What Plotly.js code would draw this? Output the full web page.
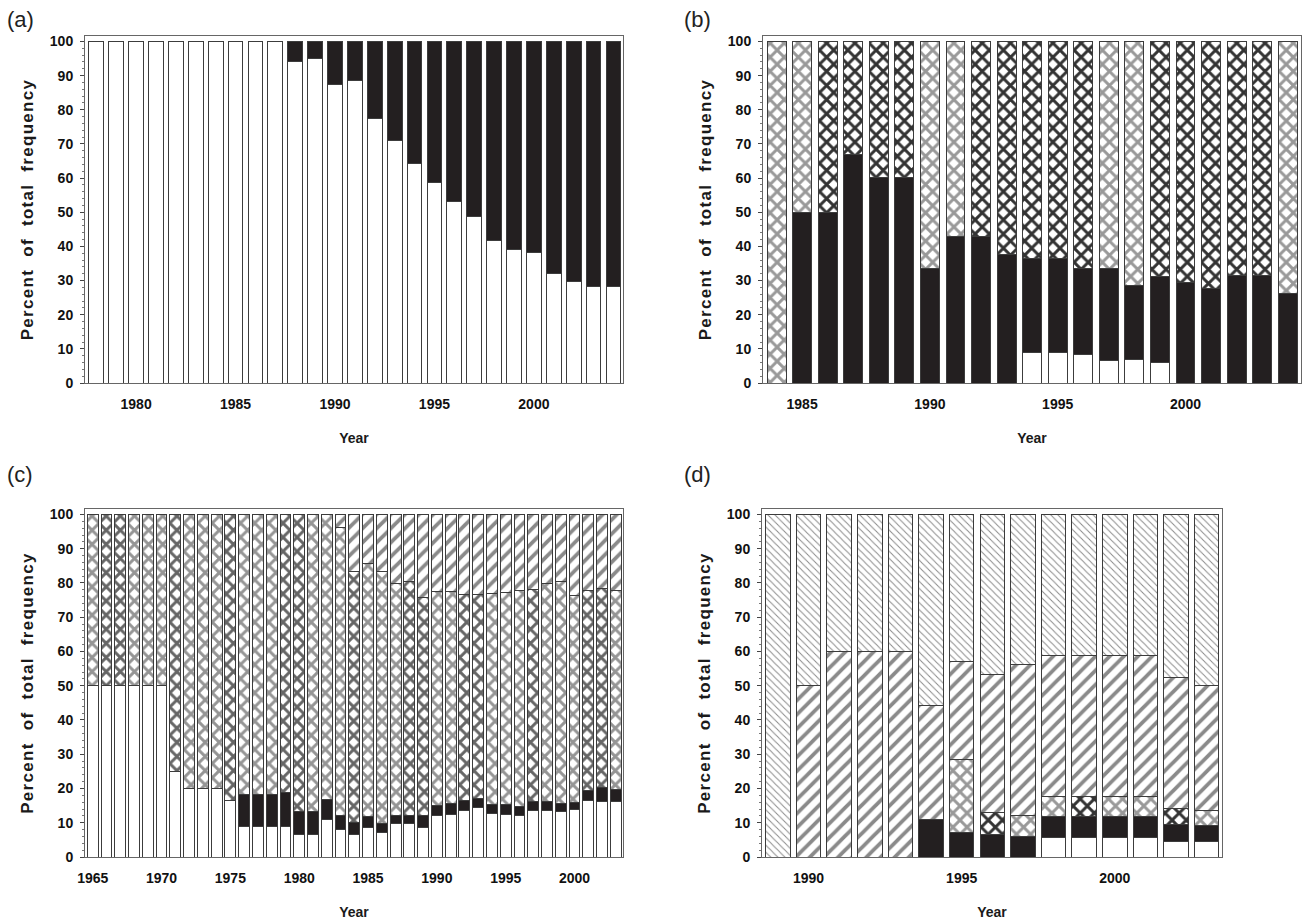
<!DOCTYPE html>
<html><head><meta charset="utf-8">
<script src="https://cdn.plot.ly/plotly-3.0.1.min.js"></script>
<style>
html,body{margin:0;padding:0;background:#fff;}
#chart{width:1303px;height:920px;}
.ytitle,.y2title,.y3title,.y4title{letter-spacing:1.3px;}
</style>
</head><body><div id="chart"></div>
<script>
// ---------- DATA (segment heights, percent of total frequency) ----------
// Panel (a)
const yearsA = [1978,1979,1980,1981,1982,1983,1984,1985,1986,1987,1988,1989,1990,1991,1992,1993,1994,1995,1996,1997,1998,1999,2000,2001,2002,2003,2004];
const aWhite = [100,100,100,100,100,100,100,100,100,100,94.0,95.1,87.4,88.5,77.4,71.1,64.2,58.8,53.2,48.8,41.6,39.0,38.3,32.0,29.7,28.3,28.3];
const aBlack = [0,0,0,0,0,0,0,0,0,0,6.0,4.9,12.6,11.5,22.6,28.9,35.8,41.2,46.8,51.2,58.4,61.0,61.7,68.0,70.3,71.7,71.7];

// Panel (b)
const yearsB = [1984,1985,1986,1987,1988,1989,1990,1991,1992,1993,1994,1995,1996,1997,1998,1999,2000,2001,2002,2003,2004];
const bWhite = [0,0,0,0,0,0,0,0,0,0,9.0,9.0,8.2,6.5,6.8,6.0,0,0,0,0,0];
const bBlack = [0,50,50,66.8,60.2,60.2,33.5,42.9,42.9,37.6,27.5,27.5,25.4,27.1,21.8,25.2,29.5,27.8,31.5,31.5,26.3];
const bCross = [100,50,50,33.2,39.8,39.8,66.5,57.1,57.1,62.4,63.5,63.5,66.4,66.4,71.4,68.8,70.5,72.2,68.5,68.5,73.7];

// Panel (c)
const yearsC = [1965,1966,1967,1968,1969,1970,1971,1972,1973,1974,1975,1976,1977,1978,1979,1980,1981,1982,1983,1984,1985,1986,1987,1988,1989,1990,1991,1992,1993,1994,1995,1996,1997,1998,1999,2000,2001,2002,2003];
const cWhite = [50,50,50,50,50,50,25,20,20,20,16.5,9.0,9.0,9.0,9.0,6.5,6.5,11.0,8.0,6.5,8.7,7.2,9.9,9.7,8.5,12.0,12.4,13.6,14.4,12.7,12.5,12.1,13.6,13.6,13.4,13.9,16.4,16.2,16.1];
const cBlack = [0,0,0,0,0,0,0,0,0,0,0,9.2,9.2,9.2,9.7,6.9,6.8,5.7,4.1,3.6,3.0,2.5,2.1,2.4,3.7,2.9,3.2,3.0,2.8,2.7,2.8,2.5,2.7,2.5,2.2,2.1,3.1,4.1,3.6];
const cCross = [50,50,50,50,50,50,75,80,80,80,83.5,81.8,81.8,81.8,81.3,86.6,86.7,83.3,84.0,73.3,74.0,73.7,67.8,68.2,63.7,62.5,62.0,60.0,59.4,61.5,62.0,63.3,61.9,63.7,64.7,60.4,58.4,58.1,58.1];
const cSlash = [0,0,0,0,0,0,0,0,0,0,0,0,0,0,0,0,0,0,3.9,16.6,14.3,16.6,20.2,19.7,24.1,22.6,22.4,23.4,23.4,23.1,22.7,22.1,21.8,20.2,19.7,23.6,22.1,21.6,22.2];

// Panel (d)
const yearsD = [1989,1990,1991,1992,1993,1994,1995,1996,1997,1998,1999,2000,2001,2002,2003];
const dWhite = [0,0,0,0,0,0,0,0,0,5.6,5.6,5.6,5.6,4.6,4.4];
const dBlack = [0,0,0,0,0,11.0,7.1,6.7,6.1,6.1,6.1,6.1,6.1,4.8,4.7];
const dCross = [0,0,0,0,0,0,21.3,6.4,6.1,6.0,6.0,6.0,6.0,4.9,4.5];
const dSlash = [0,50.0,60.0,60.0,60.0,33.3,28.8,40.2,44.0,41.0,41.0,41.0,41.0,38.0,36.4];
const dBack  = [100,50.0,40.0,40.0,40.0,55.7,42.8,46.7,43.8,41.3,41.3,41.3,41.3,47.7,50.0];

// tick labels
const ticksA = [1980,1985,1990,1995,2000];
const ticksB = [1985,1990,1995,2000];
const ticksC = [1965,1970,1975,1980,1985,1990,1995,2000];
const ticksD = [1990,1995,2000];

// ---------- STYLE ----------
// apparent shade of the cross-hatch in the scan (L = light, D = dark)
const bTone = ['L','L','D','D','D','D','L','L','D','D','D','D','D','L','L','D','D','D','D','D','L'];
const cTone = ['L','D','D','L','L','L','D','L','L','L','D','L','L','L','D','D','L','L','L','D','L','L','L','D','D','L','L','D','D','L','L','L','D','L','L','L','D','D','L'];
const dTone = ['L','L','L','L','L','L','L','D','L','L','D','L','L','D','L'];

const OUT = {color:'#3c3c3c', width:1};
const toneColor = (t, dark, light) => t.map(v => v === 'D' ? dark : light);

function base(x, y, ax, w, marker){ return {type:'bar', x, y, xaxis:'x'+ax, yaxis:'y'+ax, width:w, marker, hoverinfo:'skip'}; }
function whiteTr(x, y, ax, w){ return base(x, y, ax, w, {color:'#ffffff', line:OUT}); }
function blackTr(x, y, ax, w){ return base(x, y, ax, w, {color:'#231f20', line:OUT}); }
function crossTr(x, y, ax, w, fg){ return base(x, y, ax, w,
  {color:'#ffffff', line:OUT, pattern:{shape:'x', fgcolor:fg, bgcolor:'#ffffff', fgopacity:1, size:10, solidity:0.5, fillmode:'replace'}}); }
function slashTr(x, y, ax, w){ return base(x, y, ax, w,
  {color:'#ffffff', line:OUT, pattern:{shape:'/', fgcolor:'#8a8a8a', bgcolor:'#ffffff', fgopacity:1, size:10, solidity:0.38, fillmode:'replace'}}); }
function backTr(x, y, ax, w){ return base(x, y, ax, w,
  {color:'#ffffff', line:OUT, pattern:{shape:'\\', fgcolor:'#8c8c8c', bgcolor:'#ffffff', fgopacity:1, size:5, solidity:0.2, fillmode:'replace'}}); }

const traces = [
  whiteTr(yearsA, aWhite, '', 0.74), blackTr(yearsA, aBlack, '', 0.74),
  whiteTr(yearsB, bWhite, '2', 0.74), blackTr(yearsB, bBlack, '2', 0.74), crossTr(yearsB, bCross, '2', 0.74, toneColor(bTone, '#333333', '#999999')),
  whiteTr(yearsC, cWhite, '3', 0.79), blackTr(yearsC, cBlack, '3', 0.79), crossTr(yearsC, cCross, '3', 0.79, toneColor(cTone, '#666666', '#959595')), slashTr(yearsC, cSlash, '3', 0.79),
  whiteTr(yearsD, dWhite, '4', 0.80), blackTr(yearsD, dBlack, '4', 0.80), crossTr(yearsD, dCross, '4', 0.80, toneColor(dTone, '#333333', '#999999')), slashTr(yearsD, dSlash, '4', 0.80), backTr(yearsD, dBack, '4', 0.80)
];

const W = 1303, H = 920;
const tickFont = {family:'"Liberation Sans Narrow", "Arial Narrow", "Liberation Sans", Arial, sans-serif', size:14, weight:'bold', color:'#111'};
const yTitleFont = {family:'"Liberation Sans", Arial, sans-serif', size:17, weight:'bold', color:'#1a1a1a'};
const xTitleFont = {family:'"Liberation Sans Narrow", "Arial Narrow", "Liberation Sans", Arial, sans-serif', size:14, weight:'bold', color:'#1a1a1a'};

function xAx(l, r, range, tv, anchor){
  return {domain:[l/W, r/W], range, anchor, tickvals:tv, ticks:'', ticklabelstandoff:8,
    showline:true, mirror:true, linecolor:'#666', linewidth:1, showgrid:false, zeroline:false,
    tickfont:tickFont, title:{text:'Year', font:xTitleFont, standoff:22}};
}
function yAx(top, bottom, anchor){
  return {domain:[1-bottom/H, 1-top/H], range:[0,101.6], anchor, dtick:10, tick0:0, ticks:'outside', ticklen:4, tickcolor:'#444', tickwidth:1,
    minor:{dtick:2, ticks:'outside', ticklen:2, tickcolor:'#777'},
    ticklabelstandoff:4,
    showline:true, mirror:true, linecolor:'#666', linewidth:1, showgrid:false, zeroline:false,
    tickfont:tickFont, title:{text:'Percent  of  total  frequency', font:yTitleFont, standoff:11}};
}

const labelFont = {family:'"Liberation Sans", Arial, sans-serif', size:22, color:'#222'};
function panelLabel(t, x, y){ return {text:t, x:x/W, y:1-y/H, xref:'paper', yref:'paper', xanchor:'center', yanchor:'middle', showarrow:false, font:labelFont}; }
const layout = {
  width:W, height:H, margin:{l:0,r:0,t:0,b:0}, paper_bgcolor:'#fff', plot_bgcolor:'#fff',
  barmode:'stack', showlegend:false,
  xaxis:  xAx(85, 623, [1977.43, 2004.48], ticksA, 'y'),
  yaxis:  yAx(36, 383, 'x'),
  xaxis2: xAx(763, 1301, [1983.47, 2004.52], ticksB, 'y2'),
  yaxis2: yAx(36, 383, 'x2'),
  xaxis3: xAx(85, 623, [1964.44, 2003.52], ticksC, 'y3'),
  yaxis3: yAx(509, 857, 'x3'),
  xaxis4: xAx(762, 1222, [1988.48, 2003.50], ticksD, 'y4'),
  yaxis4: yAx(509, 857, 'x4'),
  annotations: [
    panelLabel('(a)', 20, 20),
    panelLabel('(b)', 697, 20),
    panelLabel('(c)', 20, 474),
    panelLabel('(d)', 697, 474)
  ]
};

Plotly.newPlot('chart', traces, layout, {staticPlot:true, displayModeBar:false});
</script>
</body></html>
